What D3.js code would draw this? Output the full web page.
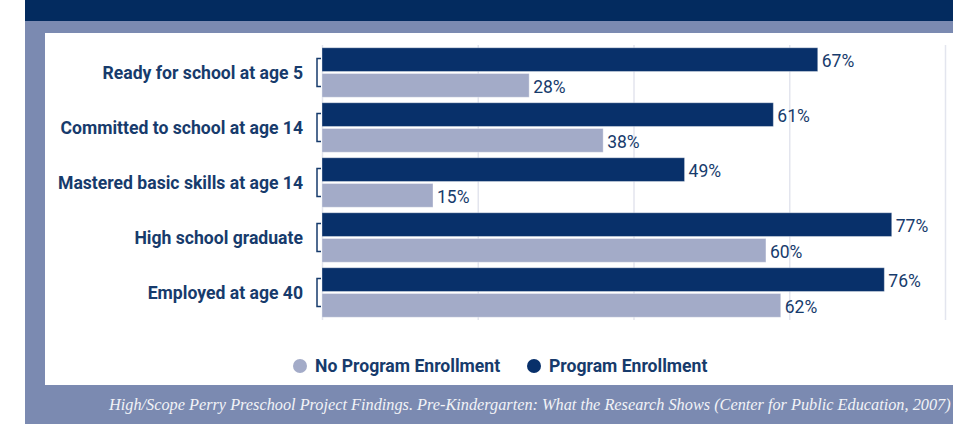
<!DOCTYPE html>
<meta charset="utf-8">
<style>
  body { margin: 0; background: #fff; }
  svg { display: block; }
</style>
<body>
<svg width="953" height="424"></svg>

<script src="https://d3js.org/d3.v7.min.js"></script>
<script>

// the data
var categories = ["Ready for school at age 5", "Committed to school at age 14", "Mastered basic skills at age 14", "High school graduate", "Employed at age 40"];
var programValues = [67, 61, 49, 77, 76];
var noProgramValues = [28, 38, 15, 60, 62];
var seriesNames = ["Program Enrollment", "No Program Enrollment"];
var legendNames = ["No Program Enrollment", "Program Enrollment"];
var source = "High/Scope Perry Preschool Project Findings. Pre-Kindergarten: What the Research Shows (Center for Public Education, 2007)";

var svg = d3.select("svg"),
    width = +svg.attr("width"),
    height = +svg.attr("height");

var navy = "#08306a",
    light = "#a3abc8",
    frame = "#7b8ab1",
    textColor = "#173b6c",
    grid = "#e3e5ee";

// the frame round the chart
svg.append("rect").attr("x", 25).attr("y", 0).attr("width", width - 25).attr("height", height).attr("fill", frame);
svg.append("rect").attr("x", 25).attr("y", 0).attr("width", width - 25).attr("height", 21).attr("fill", "#032b5f");
svg.append("rect").attr("x", 45).attr("y", 33).attr("width", width - 45).attr("height", 352).attr("fill", "#fff");

// scales
var xMax = 84.2;
var x = d3.scaleLinear().domain([0, xMax]).range([322, 945]);
var y = d3.scaleBand().domain(categories).range([45, 320]).paddingInner(0.1).paddingOuter(0.05);
var ySub = d3.scaleBand().domain(seriesNames).range([0, y.bandwidth()]).paddingInner(0.08);
var color = d3.scaleOrdinal().domain(seriesNames).range([navy, light]);

// gridlines (no tick labels in the original)
svg.append("g")
    .attr("transform", "translate(0,320)")
    .call(d3.axisBottom(x).tickValues(d3.range(5).map(function(i) { return i * xMax / 4; })).tickSize(-275).tickFormat(""))
    .call(function(g) {
      g.select(".domain").remove();
      g.selectAll(".tick line").attr("stroke", grid).attr("stroke-width", 1.5);
    });

var rows = categories.map(function(c, i) {
  return { name: c, values: [
    { key: seriesNames[0], value: programValues[i] },
    { key: seriesNames[1], value: noProgramValues[i] }
  ]};
});

var group = svg.append("g").selectAll("g")
  .data(rows)
  .join("g")
    .attr("transform", function(d) { return "translate(0," + y(d.name) + ")"; });

group.selectAll("rect")
  .data(function(d) { return d.values; })
  .join("rect")
    .attr("x", x(0))
    .attr("y", function(d) { return ySub(d.key); })
    .attr("width", function(d) { return x(d.value) - x(0); })
    .attr("height", ySub.bandwidth())
    .attr("fill", function(d) { return color(d.key); })
    .attr("stroke", "#fff")
    .attr("stroke-opacity", 0.35)
    .attr("stroke-width", 1);

group.selectAll("text.value")
  .data(function(d) { return d.values; })
  .join("text")
    .attr("class", "value")
    .attr("x", function(d) { return x(d.value) + 4; })
    .attr("y", function(d) { return ySub(d.key) + ySub.bandwidth() / 2 + 1; })
    .attr("dy", "0.36em")
    .attr("font-family", "Roboto, sans-serif")
    .attr("font-size", 17.5)
    .attr("fill", textColor)
    .text(function(d) { return d.value + "%"; });

// bracket tying the two bars of each row
group.append("path")
    .attr("d", function() {
      var c = y.bandwidth() / 2;
      return "M321," + (c - 14) + "H317V" + (c + 14) + "H321";
    })
    .attr("fill", "none")
    .attr("stroke", textColor)
    .attr("stroke-width", 1.5);

group.append("text")
    .attr("x", 303)
    .attr("y", y.bandwidth() / 2)
    .attr("dy", "0.36em")
    .attr("text-anchor", "end")
    .attr("font-family", "Roboto, sans-serif")
    .attr("font-weight", "bold")
    .attr("font-size", 17.6)
    .attr("fill", textColor)
    .text(function(d) { return d.name; });

// legend
var legendX = [300, 534];
var legend = svg.append("g").selectAll("g")
  .data(legendNames)
  .join("g")
    .attr("transform", function(d, i) { return "translate(" + legendX[i] + ",366)"; });

legend.append("circle")
    .attr("r", 7)
    .attr("fill", function(d) { return color(d); });

legend.append("text")
    .attr("x", 15)
    .attr("dy", "0.36em")
    .attr("font-family", "Roboto, sans-serif")
    .attr("font-weight", "bold")
    .attr("font-size", 17.6)
    .attr("fill", textColor)
    .text(function(d) { return d; });

// source line in the footer
svg.append("text")
    .attr("x", 109)
    .attr("y", 410)
    .attr("font-family", "'Liberation Serif', serif")
    .attr("font-style", "italic")
    .attr("font-size", 16.3)
    .attr("fill", "#f2f3f7")
    .text(source);

</script>
</body>
